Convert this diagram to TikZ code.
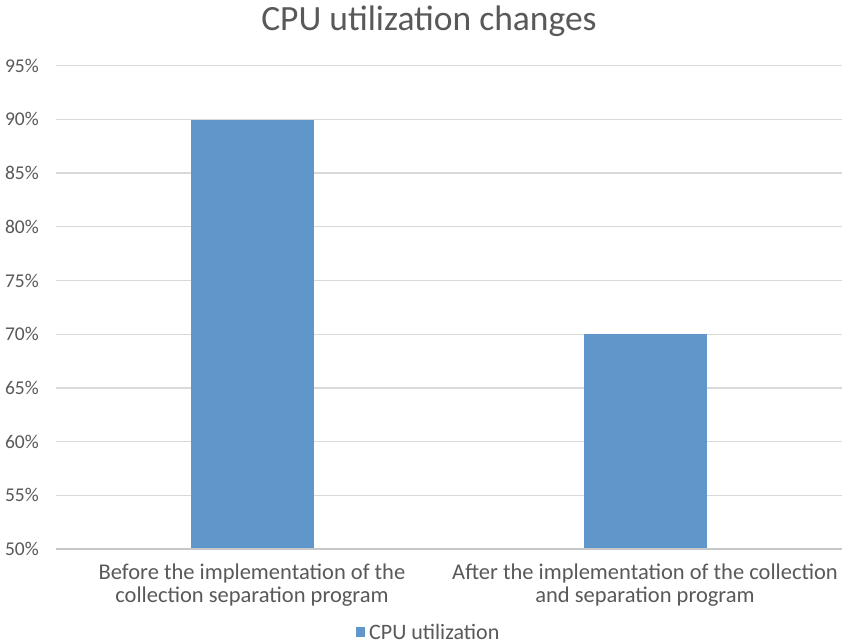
\documentclass[tikz,border=0pt]{standalone}
\usepackage{fontspec}
\setmainfont{Carlito}
\definecolor{barblue}{HTML}{5F97CB}
\definecolor{gridgray}{HTML}{D9D9D9}
\definecolor{axisgray}{HTML}{C8C8C8}
\definecolor{txtgray}{HTML}{595959}
\begin{document}
\begin{tikzpicture}[x=1pt,y=-1pt,
  ticklabel/.style={anchor=east,text=txtgray,font=\fontsize{19.5}{22}\selectfont,inner sep=0pt},
  catlabel/.style={align=center,text=txtgray,font=\fontsize{22.5}{23.5}\selectfont,inner sep=0pt},
  titlestyle/.style={text=txtgray,font=\fontsize{35.5}{38}\selectfont,inner sep=0pt},
  legendstyle/.style={anchor=west,text=txtgray,font=\fontsize{22}{24}\selectfont,inner sep=0pt},
  bar/.style={fill=barblue,draw=none}]
\useasboundingbox (0,0) rectangle (842,644);
\fill[white] (0,0) rectangle (842,644);
\node[titlestyle] (title) at (429,21) {CPU utilization changes};
\foreach \i in {1,...,9}{
  \pgfmathsetmacro\yy{549-\i*53.7}
  \draw[gridgray,line width=1.2pt] (56,\yy) -- (842,\yy);
}
\foreach \i in {0,...,9}{
  \pgfmathsetmacro\yy{549-\i*53.7}
  \pgfmathtruncatemacro\vv{50+5*\i}
  \node[ticklabel] (t\i) at (39,\yy) {\vv\%};
}
\fill[bar] (191,549) rectangle (314,120);
\fill[bar] (584,549) rectangle (707,334);
\draw[axisgray,line width=1.2pt] (56,549) -- (842,549);
\node[catlabel] (c1) at (252,585) {Before the implementation of the\\collection separation program};
\node[catlabel] (c2) at (645,585) {After the implementation of the collection\\and separation program};
\fill[barblue] (356,627) rectangle (365,637);
\node[legendstyle] (leg) at (369,632) {CPU utilization};
\end{tikzpicture}
\end{document}
